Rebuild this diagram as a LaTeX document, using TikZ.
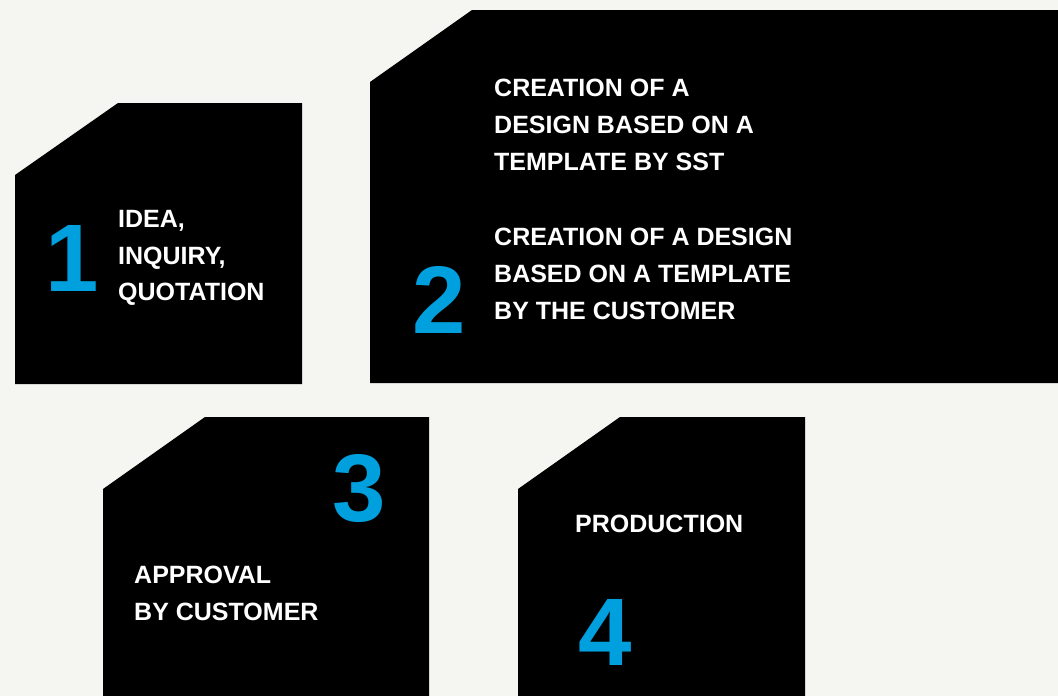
\documentclass[tikz,border=0pt]{standalone}
\usepackage{fontspec}
\setmainfont{Liberation Sans}
\definecolor{bgcol}{RGB}{245,246,241}
\definecolor{stepblue}{RGB}{0,160,222}
\begin{document}
\begin{tikzpicture}[x=1pt,y=-1pt,
  lbl/.style={anchor=base west,inner sep=0pt,text=white,font=\fontsize{25}{30}\selectfont\bfseries},
  num/.style={anchor=base,inner sep=0pt,text=stepblue,font=\fontsize{96}{100}\selectfont\bfseries},
  panel/.style={fill=black}]
\useasboundingbox (0,0) rectangle (1058,696);
\fill[bgcol] (0,0) rectangle (1058,696);
% panels
\fill[panel] (15,175) -- (118,103) -- (302,103) -- (302,384) -- (15,384) -- cycle;
\fill[panel] (370,82) -- (472,10) -- (1058,10) -- (1058,383) -- (370,383) -- cycle;
\fill[panel] (103,489) -- (205,417) -- (429,417) -- (429,696) -- (103,696) -- cycle;
\fill[panel] (518,489) -- (620,417) -- (805,417) -- (805,696) -- (518,696) -- cycle;
% step 1
\node[num] (n1) at (72.5,291) {1};
\node[lbl] (t1a) at (118,227) {IDEA,};
\node[lbl] (t1b) at (118,264) {INQUIRY,};
\node[lbl] (t1c) at (118,300) {QUOTATION};
% step 2
\node[num] (n2) at (439,333) {2};
\node[lbl] (t2a) at (494,96) {CREATION OF A};
\node[lbl] (t2b) at (494,133) {DESIGN BASED ON A};
\node[lbl] (t2c) at (494,170) {TEMPLATE BY SST};
\node[lbl] (t2d) at (494,245) {CREATION OF A DESIGN};
\node[lbl] (t2e) at (494,282) {BASED ON A TEMPLATE};
\node[lbl] (t2f) at (494,319) {BY THE CUSTOMER};
% step 3
\node[num] (n3) at (359,521) {3};
\node[lbl] (t3a) at (134,583) {APPROVAL};
\node[lbl] (t3b) at (134,620) {BY CUSTOMER};
% step 4
\node[num] (n4) at (605,665) {4};
\node[lbl] (t4a) at (575,532) {PRODUCTION};
\end{tikzpicture}
\end{document}
